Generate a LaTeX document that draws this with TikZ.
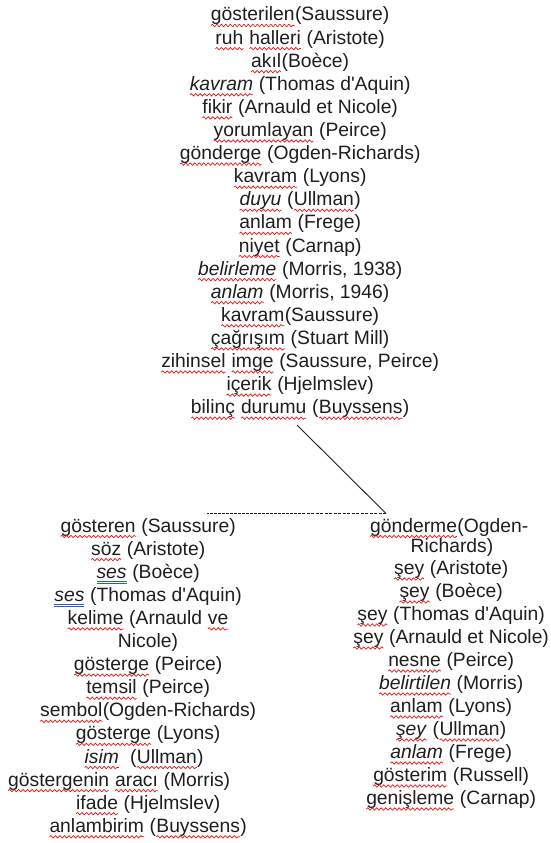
\documentclass[tikz,border=0pt]{standalone}
\usepackage{fontspec}
\setmainfont{Liberation Sans}[Ligatures=TeXOff]
\usetikzlibrary{decorations.pathmorphing}
\definecolor{txt}{RGB}{30,30,30}
\definecolor{wred}{RGB}{230,20,20}
\definecolor{wblue}{RGB}{40,90,220}
\newcommand\rwv[1]{\tikz[baseline=(w.base)]{\node[inner sep=0pt,outer sep=0pt,anchor=base] (w) at (0,0) {#1};
  \draw[wred,line width=0.7pt,decorate,decoration={snake,amplitude=1.2pt,segment length=4.5pt}] ([yshift=-4.5pt]w.base west) -- ([yshift=-4.5pt]w.base east);}}
\newcommand\bdu[1]{\tikz[baseline=(w.base)]{\node[inner sep=0pt,outer sep=0pt,anchor=base] (w) at (0,0) {#1};
  \draw[wblue,line width=0.7pt] ([yshift=-3.5pt]w.base west) -- ([yshift=-3.5pt]w.base east);
  \draw[wblue,line width=0.7pt] ([yshift=-5.5pt]w.base west) -- ([yshift=-5.5pt]w.base east);}}
\tikzset{
  lbl/.style={font=\fontsize{19.3}{23}\selectfont, text=txt, inner sep=0pt, anchor=base},
  solidline/.style={draw=txt, line width=0.9pt},
  thickdash/.style={draw=txt, line width=1.8pt, dash pattern=on 3pt off 1pt},
  thindash/.style={draw=txt, line width=0.6pt, dash pattern=on 3pt off 1.5pt}
}
\begin{document}
\begin{tikzpicture}[x=1pt,y=-1pt]
\useasboundingbox (0,0) rectangle (551,843);
% top block
\node[lbl] (t1) at (300,21) {\rwv{gösterilen}(Saussure)};
\node[lbl] (t2) at (300,44.1) {\rwv{ruh} \rwv{halleri} (Aristote)};
\node[lbl] (t3) at (300,67.2) {\rwv{akıl}(Boèce)};
\node[lbl] (t4) at (300,90.3) {\rwv{\textit{kavram}} (Thomas d'Aquin)};
\node[lbl] (t5) at (300,113.4) {\rwv{fikir} (Arnauld et Nicole)};
\node[lbl] (t6) at (300,136.5) {\rwv{yorumlayan} (Peirce)};
\node[lbl] (t7) at (300,159.6) {\rwv{gönderge} (Ogden-Richards)};
\node[lbl] (t8) at (300,182.7) {\rwv{kavram} (Lyons)};
\node[lbl] (t9) at (300,205.8) {\rwv{\textit{duyu}} (\rwv{Ullman})};
\node[lbl] (t10) at (300,228.9) {\rwv{anlam} (Frege)};
\node[lbl] (t11) at (300,252) {\rwv{niyet} (Carnap)};
\node[lbl] (t12) at (300,275.1) {\rwv{\textit{belirleme}} (Morris, 1938)};
\node[lbl] (t13) at (300,298.2) {\rwv{\textit{anlam}} (Morris, 1946)};
\node[lbl] (t14) at (300,321.3) {\rwv{kavram}(Saussure)};
\node[lbl] (t15) at (300,344.4) {\rwv{çağrışım} (Stuart Mill)};
\node[lbl] (t16) at (300,367.5) {\rwv{zihinsel} \rwv{imge} (Saussure, Peirce)};
\node[lbl] (t17) at (300,390.6) {\rwv{içerik} (Hjelmslev)};
\node[lbl] (t18) at (300,413.7) {\rwv{bilinç} \rwv{durumu} (\rwv{Buyssens})};
% left block
\node[lbl] (l1) at (148,532) {\rwv{gösteren} (Saussure)};
\node[lbl] (l2) at (148,555.1) {\rwv{söz} (Aristote)};
\node[lbl] (l3) at (148,578.2) {\bdu{\textit{ses}} (Boèce)};
\node[lbl] (l4) at (148,601.3) {\bdu{\textit{ses}} (Thomas d'Aquin)};
\node[lbl] (l5) at (148,624.4) {\rwv{kelime} (Arnauld \rwv{ve}};
\node[lbl] (l6) at (148,647.5) {Nicole)};
\node[lbl] (l7) at (148,670.6) {\rwv{gösterge} (Peirce)};
\node[lbl] (l8) at (148,693.7) {\rwv{temsil} (Peirce)};
\node[lbl] (l9) at (148,716.8) {\rwv{sembol}(Ogden-Richards)};
\node[lbl] (l10) at (148,739.9) {\rwv{gösterge} (Lyons)};
\node[lbl] (l11) at (144,763) {\rwv{\textit{isim}}\ \ (\rwv{Ullman})};
\node[lbl] (l12) at (119,786.1) {\rwv{göstergenin} \rwv{aracı} (Morris)};
\node[lbl] (l13) at (148,809.2) {\rwv{ifade} (Hjelmslev)};
\node[lbl] (l14) at (148,832.3) {\rwv{anlambirim} (\rwv{Buyssens})};
% right block
\node[lbl] (r1) at (449,532) {\rwv{gönderme}(Ogden-};
\node[lbl] (r2) at (452,552) {Richards)};
\node[lbl] (r3) at (451,574.5) {\rwv{şey} (Aristote)};
\node[lbl] (r4) at (451,597.5) {\rwv{şey} (Boèce)};
\node[lbl] (r5) at (451,620.5) {\rwv{şey} (Thomas d'Aquin)};
\node[lbl] (r6) at (451,643.5) {\rwv{şey} (Arnauld et Nicole)};
\node[lbl] (r7) at (451,666.5) {\rwv{nesne} (Peirce)};
\node[lbl] (r8) at (451,689.5) {\rwv{\textit{belirtilen}} (Morris)};
\node[lbl] (r9) at (451,712.5) {\rwv{anlam} (Lyons)};
\node[lbl] (r10) at (451,735.5) {\rwv{\textit{şey}} (\rwv{Ullman})};
\node[lbl] (r11) at (451,758.5) {\rwv{\textit{anlam}} (Frege)};
\node[lbl] (r12) at (451,781.5) {\rwv{gösterim} (Russell)};
\node[lbl] (r13) at (451,804.5) {\rwv{genişleme} (Carnap)};
% connectors
\coordinate (top) at (297,425);
\coordinate (corner) at (386,513.5);
\coordinate (mid) at (297,513.5);
\coordinate (left) at (207,513.5);
\draw[solidline] (top) -- (corner);
\draw[thindash] (corner) -- (mid);
\draw[thickdash] (mid) -- (left);
\end{tikzpicture}
\end{document}
